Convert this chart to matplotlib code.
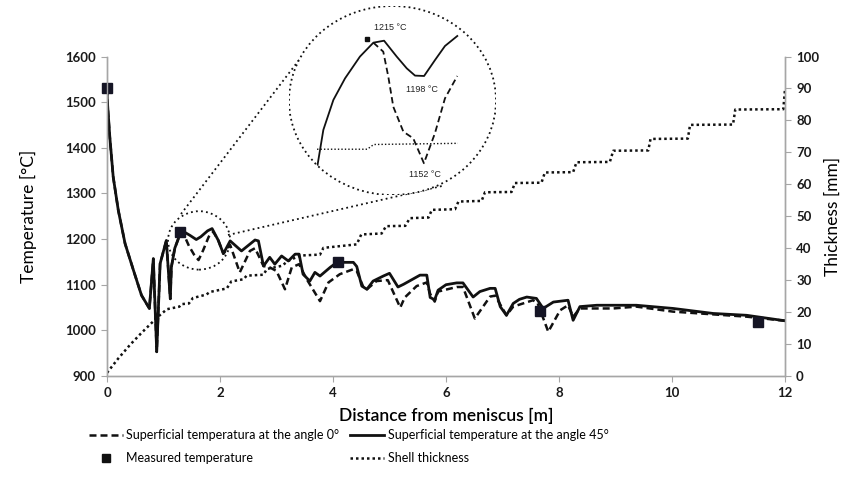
import numpy as np
import matplotlib
matplotlib.use('Agg')
import matplotlib.pyplot as plt
from matplotlib.patches import Ellipse
from matplotlib.lines import Line2D

plt.rcParams['font.family'] = ['Lato', 'DejaVu Sans']

# superficial temperature at the angle 45 deg (solid)
x45 = [0.0, 0.005, 0.05, 0.11, 0.2, 0.32, 0.47, 0.61, 0.75, 0.82, 0.88, 0.94,
       1.05, 1.12, 1.14, 1.2, 1.3, 1.36, 1.47, 1.58, 1.66, 1.78, 1.86, 1.97,
       2.06, 2.18, 2.38, 2.62, 2.68, 2.77, 2.88, 2.97, 3.09, 3.21, 3.33, 3.4,
       3.47, 3.59, 3.68, 3.77, 3.95, 4.07, 4.36, 4.42, 4.51, 4.6, 4.71, 4.89,
       5.0, 5.15, 5.25, 5.54, 5.66, 5.72, 5.8, 5.86, 6.0, 6.19, 6.3, 6.48,
       6.6, 6.78, 6.87, 6.96, 7.07, 7.19, 7.3, 7.43, 7.6, 7.72, 7.9, 8.16,
       8.25, 8.37, 8.67, 9.37, 10.02, 10.73, 11.32, 12.0]
t45 = [1530, 1504, 1423, 1336, 1263, 1190, 1131, 1077, 1048, 1157, 953, 1146,
       1197, 1069, 1139, 1180, 1213, 1216, 1208, 1199, 1205, 1218, 1223, 1197,
       1168, 1196, 1174, 1198, 1196, 1141, 1160, 1145, 1163, 1152, 1167, 1167,
       1123, 1108, 1127, 1119, 1138, 1149, 1149, 1140, 1097, 1090, 1108, 1119,
       1125, 1095, 1101, 1121, 1121, 1072, 1067, 1088, 1100, 1104, 1104, 1073,
       1085, 1092, 1092, 1052, 1033, 1059, 1068, 1073, 1070, 1048, 1062, 1066,
       1022, 1052, 1055, 1055, 1048, 1037, 1033, 1021]

# superficial temperature at the angle 0 deg (dashed)
x0 = [0.0, 0.005, 0.05, 0.11, 0.2, 0.32, 0.47, 0.61, 0.75, 0.82, 0.88, 0.94,
      1.05, 1.12, 1.14, 1.2, 1.3, 1.36, 1.45, 1.54, 1.62, 1.7, 1.8, 1.88,
      1.97, 2.06, 2.18, 2.35, 2.53, 2.62, 2.77, 2.88, 3.0, 3.15, 3.27, 3.4,
      3.53, 3.77, 3.92, 4.12, 4.36, 4.42, 4.54, 4.6, 4.77, 4.97, 5.19, 5.27,
      5.48, 5.66, 5.72, 5.8, 5.86, 6.19, 6.3, 6.51, 6.78, 6.87, 7.07, 7.19,
      7.54, 7.62, 7.81, 8.02, 8.16, 8.25, 8.37, 8.96, 9.37, 10.02, 10.73,
      11.32, 12.0]
t0 = [1530, 1504, 1423, 1336, 1263, 1190, 1131, 1077, 1048, 1157, 953, 1146,
      1197, 1069, 1139, 1180, 1213, 1210, 1185, 1166, 1154, 1175, 1205, 1216,
      1197, 1168, 1187, 1127, 1174, 1180, 1141, 1138, 1130, 1090, 1138, 1145,
      1113, 1064, 1105, 1123, 1134, 1130, 1094, 1090, 1108, 1110, 1050, 1072,
      1097, 1105, 1080, 1063, 1085, 1095, 1095, 1026, 1074, 1076, 1033, 1052,
      1066, 1060, 997, 1044, 1055, 1030, 1048, 1048, 1052, 1041, 1035,
      1030, 1021]

# measured temperature
x_meas = [0.0, 1.3, 4.09, 7.66, 11.53]
t_meas = [1530, 1215, 1150, 1042, 1018]

# shell thickness [mm]
x_shell = [0.0, 0.2, 0.41, 0.6, 0.76, 0.92, 1.06, 1.28, 1.32, 1.45, 1.52, 1.76,
           1.82, 2.12, 2.2, 2.42, 2.47, 2.77, 2.83, 3.1, 3.2, 3.42, 3.77, 3.83,
           4.42, 4.5, 4.86, 4.94, 5.28, 5.36, 5.69, 5.75, 6.16, 6.22, 6.63,
           6.69, 7.16, 7.22, 7.69, 7.75, 8.25, 8.31, 8.9, 8.96, 9.58, 9.62,
           10.28, 10.32, 11.08, 11.12, 11.97, 12.0]
shell = [1.0, 5.5, 9.8, 13.3, 16.1, 18.8, 20.9, 21.7, 22.5, 22.7, 24.4, 25.5,
         26.3, 27.4, 29.6, 30.3, 31.4, 31.7, 33.5, 34.5, 36.0, 37.7, 38.0, 40.1,
         41.2, 44.3, 44.6, 46.9, 47.0, 49.4, 49.6, 52.0, 52.2, 54.6, 54.8,
         57.5, 57.6, 60.4, 60.5, 63.7, 63.8, 66.9, 67.0, 70.5, 70.6, 74.2,
         74.3, 78.6, 78.7, 83.4, 83.5, 89.7]

# zoomed detail (inset)
ins_x45 = [0.952, 0.989, 1.051, 1.123, 1.215, 1.298, 1.364, 1.442, 1.504,
           1.555, 1.611, 1.679, 1.740, 1.816]
ins_t45 = [1152, 1170.5, 1185.8, 1196.8, 1207.9, 1215, 1216, 1207.9, 1201.9,
           1198.2, 1198, 1206.2, 1213.3, 1218.4]
ins_x0 = [1.298, 1.359, 1.390, 1.421, 1.483, 1.544, 1.610, 1.678, 1.740, 1.816]
ins_t0 = [1215, 1210.4, 1197.7, 1182.3, 1169.6, 1166.2, 1153.5, 1168.8,
          1186.6, 1198]
ins_xs = [0.95, 1.26, 1.30, 1.82]
ins_shell = [21.6, 21.6, 22.4, 22.6]
ins_labels = [(1.40, 1222.5, '1215 °C'), (1.596, 1191, '1198 °C'),
              (1.617, 1148, '1152 °C')]

W, H = 856, 493
fig = plt.figure(figsize=(W / 100, H / 100), dpi=100)
gray = '#a6a6a6'
ink = '#111111'

ax = fig.add_axes([107 / W, 1 - 376 / H, (785 - 107) / W, (376 - 56.5) / H])
ax2 = ax.twinx()

dash = (0, (2.8, 1.6))
dots = (0, (1, 1.2))

ax.plot(x0, t0, color=ink, lw=1.8, ls=dash, zorder=3)
ax.plot(x45, t45, color=ink, lw=2.0, zorder=4)
ax.plot(x_meas, t_meas, 's', color='#151525', ms=7, zorder=5, clip_on=False)
ax2.plot(x_shell, shell, color=ink, lw=1.8, ls=dots)

ax.set_xlim(0, 12)
ax.set_ylim(900, 1600)
ax2.set_ylim(0, 100)
ax.set_xticks(range(0, 13, 2))
ax.set_yticks(range(900, 1601, 100))
ax2.set_yticks(range(0, 101, 10))

for a in (ax, ax2):
    a.spines['top'].set_visible(False)
    for s in ('left', 'right', 'bottom'):
        a.spines[s].set_color(gray)
        a.spines[s].set_linewidth(1.0)
    a.tick_params(direction='out', length=4, width=0.8, color=gray,
                  labelsize=9.5, labelcolor='#1a1a1a', pad=4)
    for lab in a.get_xticklabels() + a.get_yticklabels():
        lab.set_fontweight('bold')

ax.set_xlabel('Distance from meniscus [m]', fontsize=12.5, labelpad=6,
              fontweight='semibold')
ax.set_ylabel('Temperature [°C]', fontsize=12.5, labelpad=20)
ax2.set_ylabel('Thickness [mm]', fontsize=12.5, labelpad=4)

# small circle around the detail
ax.add_patch(Ellipse((1.63, 1197), 1.1, 128, fill=False, ec=ink, lw=1.3,
                     ls=(0, (1, 1.8)), zorder=6))

# connecting lines in figure pixels
ov = fig.add_axes([0, 0, 1, 1])
ov.set_xlim(0, W)
ov.set_ylim(H, 0)
ov.axis('off')
ov.plot([181, 299], [214, 60], color=ink, lw=1.3, ls=(0, (1, 1.8)))
ov.plot([228, 442], [235, 186], color=ink, lw=1.3, ls=(0, (1, 1.8)))

# inset
rect = [289 / W, 1 - 195 / H, 207 / W, 189 / H]
axi = fig.add_axes(rect)
axi.set_xlim(0.777, 2.055)
axi.set_ylim(1137.3, 1233.7)
axi.axis('off')
circ = Ellipse((0.5, 0.5), 1, 1, transform=axi.transAxes, fc='white',
               ec=ink, lw=1.3, ls=(0, (1, 1.8)), zorder=1)
axi.add_patch(circ)
l1, = axi.plot(ins_x45, ins_t45, color=ink, lw=1.3, zorder=3)
l2, = axi.plot(ins_x0, ins_t0, color=ink, lw=1.3, ls=(0, (3.5, 2)), zorder=3)
l1.set_clip_path(circ)
l2.set_clip_path(circ)
axi.plot([1.26], [1216.7], 's', color=ink, ms=3.5, zorder=4)
for lx, ly, txt in ins_labels:
    axi.text(lx, ly, txt, fontsize=6.5, ha='center', va='center',
             family=['Liberation Sans', 'DejaVu Sans'], color='#222222')

axs = fig.add_axes(rect)
axs.set_xlim(0.777, 2.055)
axs.set_ylim(13.85, 45.85)
axs.axis('off')
axs.plot(ins_xs, ins_shell, color=ink, lw=1.0, ls=(0, (1, 1.5)))

# legend: two columns placed separately
leg_kw = dict(loc='upper left', frameon=False,
              prop={'family': ['Liberation Sans Narrow', 'Lato'], 'size': 9},
              handlelength=2.7, handletextpad=0.3, labelspacing=0.9,
              borderaxespad=0)
fig.legend([Line2D([], [], color=ink, lw=1.8, ls=dash),
            Line2D([], [], color=ink, marker='s', ms=6, ls='none')],
           ['Superficial temperatura at the angle 0°', 'Measured temperature'],
           bbox_to_anchor=(84 / W, 1 - 424 / H), **leg_kw)
fig.legend([Line2D([], [], color=ink, lw=2.0),
            Line2D([], [], color=ink, lw=1.8, ls=dots)],
           ['Superficial temperature at the angle 45°', 'Shell thickness'],
           bbox_to_anchor=(345 / W, 1 - 424 / H), **leg_kw)

fig.savefig('out.png', dpi=100)
